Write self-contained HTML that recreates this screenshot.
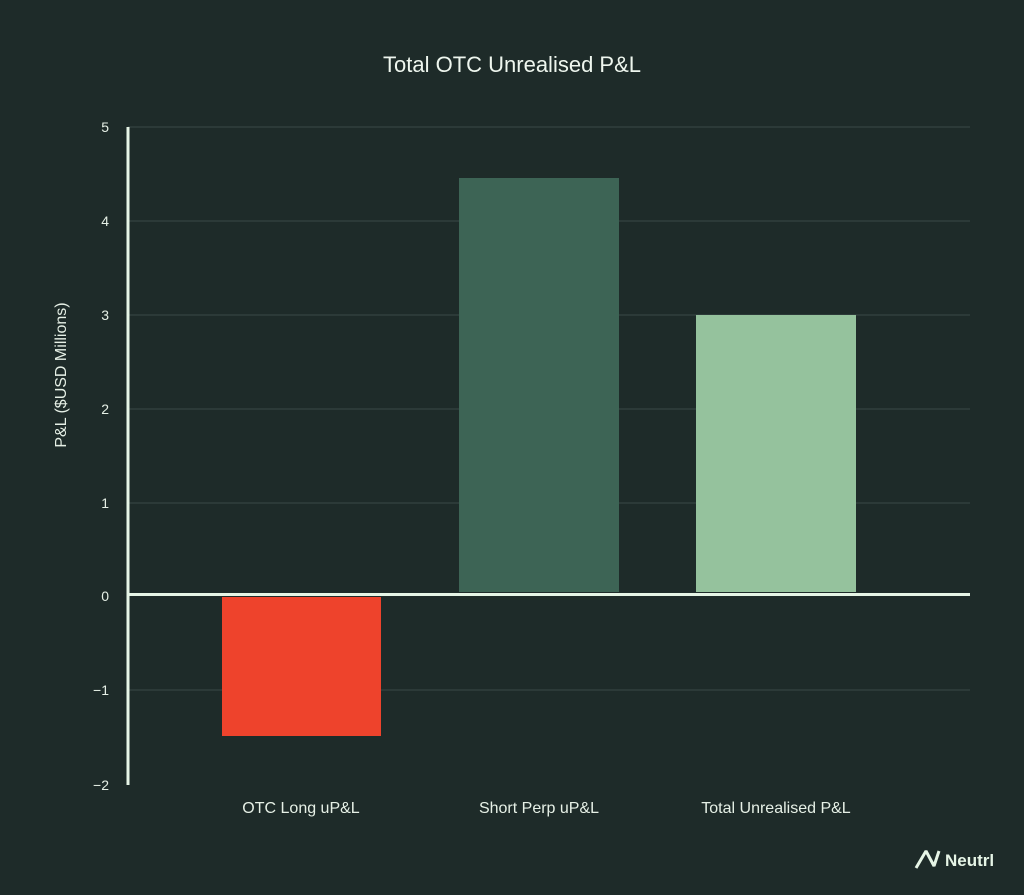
<!DOCTYPE html>
<html><head><style>body{margin:0;background:#1e2b29;}svg{display:block}</style></head><body>
<svg width="1024" height="895" xmlns="http://www.w3.org/2000/svg" font-family="Liberation Sans, sans-serif">
<rect width="1024" height="895" fill="#1e2b29"/>
<text x="512" y="72" fill="#eef6ee" font-size="22" text-anchor="middle">Total OTC Unrealised P&amp;L</text>
<g stroke="#3a4a46" stroke-width="1">
<line x1="128" x2="970" y1="127" y2="127"/><line x1="128" x2="970" y1="221" y2="221"/>
<line x1="128" x2="970" y1="315" y2="315"/><line x1="128" x2="970" y1="409" y2="409"/>
<line x1="128" x2="970" y1="503" y2="503"/><line x1="128" x2="970" y1="690" y2="690"/>
</g>
<rect x="222" y="597" width="159" height="139" fill="#ee432c"/>
<rect x="459" y="178" width="160" height="414" fill="#3d6455"/>
<rect x="696" y="315" width="160" height="277" fill="#95c29d"/>
<line x1="128" x2="970" y1="594.5" y2="594.5" stroke="#e6f5e6" stroke-width="3"/>
<line x1="128" x2="128" y1="127" y2="785" stroke="#e6f5e6" stroke-width="3"/>
<g fill="#e6f0e6" font-size="14" text-anchor="end">
<text x="109" y="132">5</text><text x="109" y="226">4</text><text x="109" y="320">3</text>
<text x="109" y="414">2</text><text x="109" y="508">1</text><text x="109" y="601">0</text>
<text x="109" y="695">−1</text><text x="109" y="790">−2</text>
</g>
<text transform="translate(66,375) rotate(-90)" fill="#e6f0e6" font-size="16" text-anchor="middle">P&amp;L  ($USD Millions)</text>
<g fill="#e6f0e6" font-size="16" text-anchor="middle">
<text x="301" y="813">OTC Long uP&amp;L</text>
<text x="539" y="813">Short Perp uP&amp;L</text>
<text x="776" y="813">Total Unrealised P&amp;L</text>
</g>
<path d="M916 868 L926 851 L934 866 L939 851" fill="none" stroke="#e6f5e6" stroke-width="3" stroke-linejoin="bevel"/>
<text x="945" y="866" fill="#e6f5e6" font-size="17" font-weight="bold">Neutrl</text>
</svg>
</body></html>
